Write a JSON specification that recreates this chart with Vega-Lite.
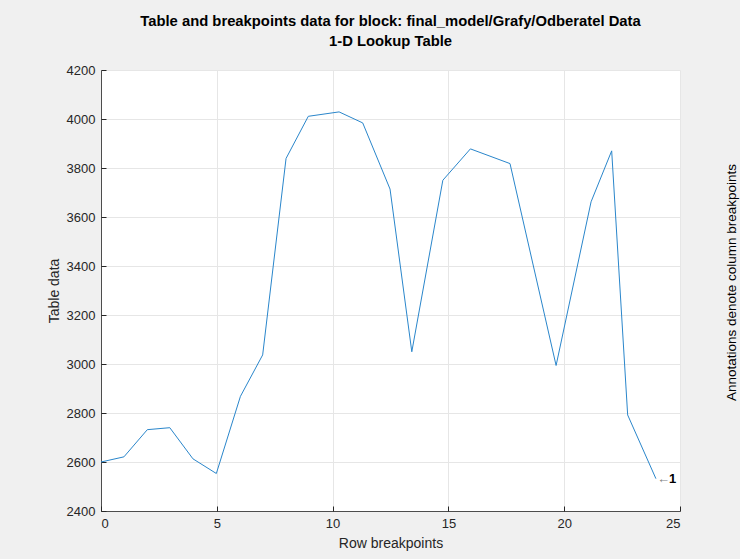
{
  "$schema": "https://vega.github.io/schema/vega-lite/v6.json",
  "autosize": {"type": "none"},
  "width": 579,
  "height": 441,
  "padding": {"left": 101, "top": 70, "right": 60, "bottom": 48},
  "background": "#f0f0f0",
  "view": {"fill": "white", "stroke": null},
  "title": {
    "text": ["Table and breakpoints data for block: final_model/Grafy/Odberatel Data", "1-D Lookup Table"],
    "font": "Liberation Sans",
    "fontSize": 14.8,
    "fontWeight": "bold",
    "color": "#000000",
    "lineHeight": 20,
    "anchor": "middle",
    "offset": 15
  },
  "datasets": {
    "table": [
      {"row": 0, "value": 2600},
      {"row": 0.99, "value": 2621},
      {"row": 2.0, "value": 2732},
      {"row": 2.97, "value": 2740},
      {"row": 3.97, "value": 2613},
      {"row": 4.98, "value": 2553},
      {"row": 6.02, "value": 2868},
      {"row": 6.98, "value": 3037},
      {"row": 7.99, "value": 3839},
      {"row": 8.95, "value": 4011},
      {"row": 10.28, "value": 4029},
      {"row": 11.3, "value": 3984},
      {"row": 12.48, "value": 3714},
      {"row": 13.42, "value": 3050},
      {"row": 14.76, "value": 3750},
      {"row": 15.95, "value": 3878},
      {"row": 17.66, "value": 3818},
      {"row": 19.65, "value": 2994},
      {"row": 21.16, "value": 3662},
      {"row": 22.05, "value": 3870},
      {"row": 22.74, "value": 2792},
      {"row": 23.96, "value": 2532}
    ],
    "notes": [
      {"row": 23.96, "value": 2532, "arrow": "←", "label": "1"}
    ]
  },
  "config": {
    "axis": {
      "domainColor": "#262626",
      "domainWidth": 0.8,
      "tickColor": "#262626",
      "tickSize": -5,
      "gridColor": "#e6e6e6",
      "gridWidth": 1,
      "labelColor": "#262626",
      "titleColor": "#262626",
      "labelFont": "Liberation Sans",
      "titleFont": "Liberation Sans",
      "labelFontSize": 13,
      "titleFontSize": 14,
      "titleFontWeight": "normal"
    }
  },
  "layer": [
    {
      "data": {"name": "table"},
      "mark": {"type": "line", "color": "#2a86cb", "strokeWidth": 1},
      "encoding": {
        "x": {
          "field": "row", "type": "quantitative",
          "scale": {"domain": [0, 25], "nice": false, "zero": false},
          "axis": {"title": "Row breakpoints", "values": [0, 5, 10, 15, 20, 25], "format": "d", "labelPadding": 11, "titlePadding": 6}
        },
        "y": {
          "field": "value", "type": "quantitative",
          "scale": {"domain": [2400, 4200], "nice": false, "zero": false},
          "axis": {"title": "Table data", "values": [2400, 2600, 2800, 3000, 3200, 3400, 3600, 3800, 4000, 4200], "format": "d", "labelPadding": 11, "titlePadding": 5}
        }
      }
    },
    {
      "data": {"name": "notes"},
      "mark": {"type": "text", "align": "left", "baseline": "middle", "dx": 1, "font": "Liberation Sans", "fontSize": 13, "color": "#7f7f7f"},
      "encoding": {
        "x": {"field": "row", "type": "quantitative"},
        "y": {"field": "value", "type": "quantitative", "axis": null},
        "text": {"field": "arrow"}
      }
    },
    {
      "data": {"name": "notes"},
      "mark": {"type": "text", "align": "left", "baseline": "middle", "dx": 13, "font": "Liberation Sans", "fontSize": 13, "fontWeight": "bold", "color": "#000000"},
      "encoding": {
        "x": {"field": "row", "type": "quantitative"},
        "y": {
          "field": "value", "type": "quantitative",
          "axis": {"orient": "right", "title": "Annotations denote column breakpoints", "titleAngle": 270, "titleColor": "#000000", "titleFontSize": 13.5, "labels": false, "ticks": false, "domain": false, "grid": false, "titlePadding": 58, "titleY": 212}
        },
        "text": {"field": "label"}
      }
    }
  ],
  "resolve": {"axis": {"y": "independent"}}
}
